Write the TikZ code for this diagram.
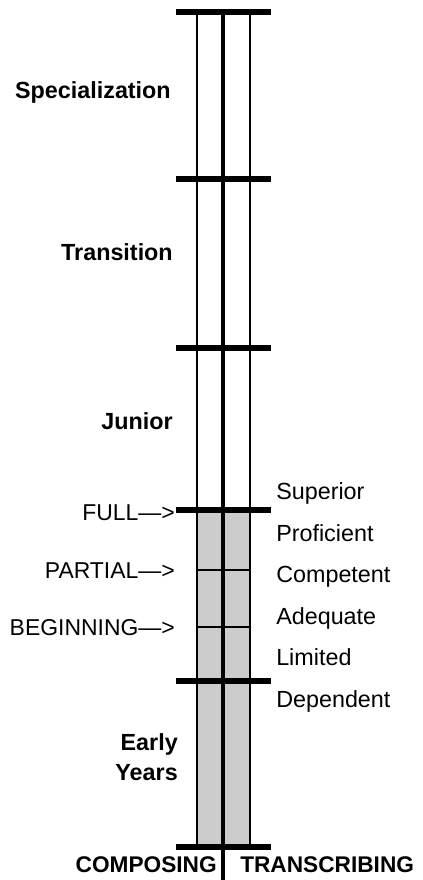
\documentclass[tikz,border=0pt]{standalone}
\usepackage{fontspec}
\setmainfont{Liberation Sans}

\begin{document}
\begin{tikzpicture}[x=0.75pt, y=-0.75pt,
  stagebar/.style={line width=3.8pt},
  rail/.style={line width=2.1pt},
  spine/.style={line width=3.2pt},
  rung/.style={line width=2.2pt},
  stagelabel/.style={font=\fontsize{17.5}{23}\selectfont\bfseries, inner sep=0pt},
  levellabel/.style={font=\fontsize{17.5}{21}\selectfont, anchor=base west, inner sep=0pt},
  entrylabel/.style={font=\fontsize{17.2}{21}\selectfont, anchor=base east, inner sep=0pt},
  strandlabel/.style={font=\fontsize{17}{20}\selectfont\bfseries, anchor=base, inner sep=0pt}
]
  \useasboundingbox (0,0) rectangle (423,880);
  % shaded part of the scale
  \fill[gray!40] (197,510) rectangle (250,847);
  % the two strands and the divider
  \draw[rail] (197,12) -- (197,847);
  \draw[rail] (250,12) -- (250,847);
  \draw[spine] (223,12) -- (223,880);
  % stage boundaries
  \foreach \y in {12,179,348,510,681,847}
    \draw[stagebar] (175.5,\y) -- (270.5,\y);
  \foreach \y in {570,627}
    \draw[rung] (197,\y) -- (250,\y);

  % stages
  \node[stagelabel, anchor=base east] (special) at (171,99) {Specialization};
  \node[stagelabel, anchor=base east] (transit) at (173,261) {Transition};
  \node[stagelabel, anchor=base east] (junior) at (173,429) {Junior};
  \node[stagelabel, anchor=east, align=right] (early) at (178,757) {Early\\Years};

  % entry points
  \node[entrylabel] (full) at (175,520) {FULL—>};
  \node[entrylabel] (partial) at (175,578) {PARTIAL—>};
  \node[entrylabel] (begin) at (175,635) {BEGINNING—>};

  % levels
  \node[levellabel] (superior) at (276,499) {Superior};
  \node[levellabel] (proficient) at (276,541) {Proficient};
  \node[levellabel] (competent) at (276,582) {Competent};
  \node[levellabel] (adequate) at (276,624) {Adequate};
  \node[levellabel] (limited) at (276,665) {Limited};
  \node[levellabel] (dependent) at (276,707) {Dependent};

  % strands
  \node[strandlabel, anchor=base east] (composing) at (217,872) {COMPOSING};
  \node[strandlabel, anchor=base west] (transcribing) at (240,872) {TRANSCRIBING};
\end{tikzpicture}
\end{document}
